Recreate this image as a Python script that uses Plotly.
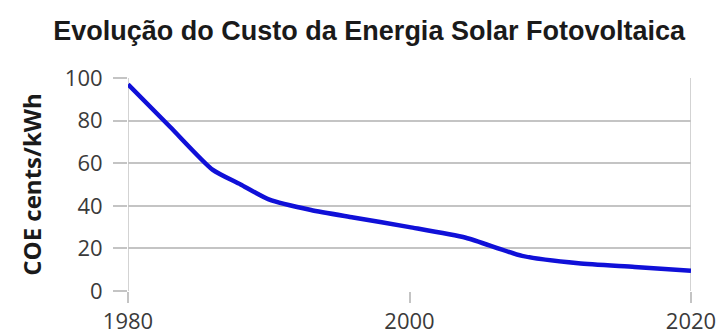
import plotly.graph_objects as go

# Cost of energy for solar PV, cents per kWh
years = [1980, 1983, 1986, 1988, 1990, 1993, 1996, 2000, 2004, 2008, 2012, 2016, 2020]
cost = [97, 77, 57, 50, 43, 38, 34.5, 30, 25, 16.5, 13, 11.3, 9.5]

x_ticks = [1980, 2000, 2020]
y_ticks = [0, 20, 40, 60, 80, 100]

fig = go.Figure(
    go.Scatter(
        x=years,
        y=cost,
        mode="lines",
        line=dict(color="#1010d8", width=4.5, shape="spline", smoothing=0.6),
        hoverinfo="skip",
    )
)

grid = "#c4c4c4"
tick_font = dict(family="Open Sans, Noto Sans, sans-serif", size=22, color="#3a3a3a")

fig.update_layout(
    width=721,
    height=336,
    margin=dict(l=128, r=30, t=78, b=45, autoexpand=False),
    paper_bgcolor="white",
    plot_bgcolor="white",
    showlegend=False,
    title=dict(
        text="<b>Evolução do Custo da Energia Solar Fotovoltaica</b>",
        x=0.512,
        xanchor="center",
        y=0.91,
        yanchor="middle",
        font=dict(family="Liberation Sans, Arial, sans-serif", size=27, color="#1a1a1a"),
    ),
    xaxis=dict(
        range=[1980, 2020],
        tickvals=x_ticks,
        ticktext=[str(v) for v in x_ticks],
        showgrid=False,
        zeroline=False,
        showline=False,
        ticks="outside",
        ticklen=11,
        tickwidth=1.5,
        tickcolor=grid,
        tickfont=tick_font,
        automargin=False,
        fixedrange=True,
    ),
    yaxis=dict(
        range=[0, 100],
        tickvals=y_ticks,
        showgrid=True,
        gridcolor=grid,
        gridwidth=1.5,
        zeroline=False,
        showline=False,
        ticks="outside",
        ticklen=14,
        tickwidth=1.5,
        tickcolor=grid,
        tickfont=tick_font,
        ticklabelstandoff=6,
        automargin=False,
        title=dict(
            text="<b>COE cents/kWh</b>",
            standoff=16,
            font=dict(family="Open Sans, Noto Sans, sans-serif", size=24, color="#1a1a1a"),
        ),
        fixedrange=True,
    ),
)

# Vertical frame lines at both ends of the time axis
for xv in (1980, 2020):
    fig.add_shape(
        type="line",
        xref="x",
        yref="paper",
        x0=xv,
        x1=xv,
        y0=0,
        y1=1,
        line=dict(color=grid, width=1.5),
        layer="below",
    )

fig.write_html("out.html")
